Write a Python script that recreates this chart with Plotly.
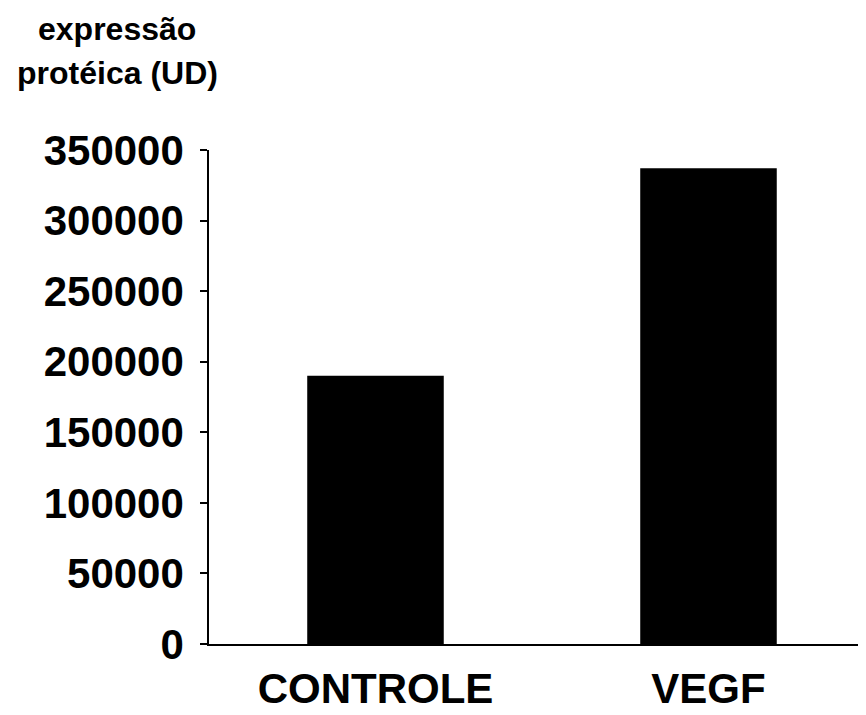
import plotly.graph_objects as go

categories = ["CONTROLE", "VEGF"]
values = [190000, 337000]
tick_vals = [0, 50000, 100000, 150000, 200000, 250000, 300000, 350000]
tick_text = ["0", "50000", "100000", "150000", "200000", "250000", "300000", "350000"]
title_lines = ["expressão", "protéica (UD)"]

font_family = "Liberation Sans, Arial, sans-serif"

W, H = 858, 707
L, R, T, B = 201, 0, 141.5, 70.6

fig = go.Figure()
fig.add_trace(go.Bar(
    x=categories, y=values,
    marker=dict(color="black", line=dict(width=0)),
    width=0.41,
))

fig.update_layout(
    width=W, height=H,
    margin=dict(l=L, r=R, t=T, b=B, autoexpand=False),
    paper_bgcolor="white", plot_bgcolor="white",
    showlegend=False,
    font=dict(family=font_family, color="black"),
)

fig.update_xaxes(
    range=[-0.5, 1.473],
    showline=True, linecolor="black", linewidth=1.5,
    ticks="", showgrid=False, zeroline=False, automargin=False,
    tickfont=dict(family=font_family, size=42, color="black", weight="bold"),
    ticklabelstandoff=7,
)
fig.update_yaxes(
    range=[0, 350000],
    tickvals=tick_vals, ticktext=tick_text,
    showline=True, linecolor="black", linewidth=1.5,
    ticks="outside", ticklen=7, tickwidth=1.5, tickcolor="black",
    showgrid=False, zeroline=False, automargin=False,
    tickfont=dict(family=font_family, size=42, color="black", weight="bold"),
    ticklabelstandoff=8,
)

plot_h = H - T - B
plot_w = W - L - R
for i, line in enumerate(title_lines):
    fig.add_annotation(
        text=line, xref="paper", yref="paper",
        x=(109 - L) / plot_w, xanchor="center",
        y=1 + (T - (20 + 44 * i)) / plot_h, yanchor="middle",
        showarrow=False,
        font=dict(family=font_family, size=32, color="black", weight="bold"),
    )

fig.write_html("out.html")
